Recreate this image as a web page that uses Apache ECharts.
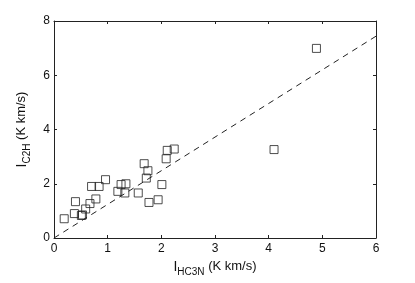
<!DOCTYPE html>
<html><head><meta charset="utf-8">
<script src="https://cdn.jsdelivr.net/npm/echarts@6/dist/echarts.min.js"></script>
<style>html,body{margin:0;padding:0;background:#fff}#c{width:415px;height:283px}</style>
</head><body><div id="c"></div>
<script>
const xValues = [0.19,0.38,0.40,0.51,0.53,0.59,0.67,0.78,0.70,0.84,0.96,1.19,1.25,1.34,1.32,1.57,1.68,1.75,1.72,1.77,1.94,2.01,2.09,2.11,2.24,4.10,4.89];
const yValues = [0.71,0.90,1.34,0.83,0.85,1.07,1.27,1.44,1.90,1.90,2.15,1.72,1.97,2.00,1.66,1.66,2.74,2.48,2.21,1.31,1.41,1.97,2.92,3.23,3.28,3.26,6.99];
const fitX = [0, 6];
const fitY = [0, 7.44];
const xTicks = [0,1,2,3,4,5,6];
const yTicks = [0,2,4,6,8];

const font = 'Liberation Sans, Arial, Helvetica, sans-serif';
const chart = echarts.init(document.getElementById('c'), null, {renderer:'canvas'});
function axisCommon(){
  return {
    axisLine:{show:true,onZero:false,lineStyle:{color:'#222',width:1}},
    axisTick:{show:true,inside:true,length:3,lineStyle:{color:'#222'}},
    splitLine:{show:false}
  };
}
const rich = {
  i:{fontSize:14,fontFamily:font,color:'#111',verticalAlign:'top'},
  s:{fontSize:10,fontFamily:font,color:'#111',verticalAlign:'bottom',padding:[7,0,0,0]},
  n:{fontSize:13,fontFamily:font,color:'#111',verticalAlign:'top'}
};
chart.setOption({
  animation:false,
  grid:{left:54,right:39,top:21,bottom:45,show:false},
  xAxis:[
    Object.assign({type:'value',min:0,max:6,interval:1,position:'bottom',
      name:'{i|I}{s|HC3N}{n| (K km/s)}',nameLocation:'middle',nameGap:16,
      nameTextStyle:{rich:rich},
      axisLabel:{fontSize:12,fontFamily:font,color:'#111',margin:5,formatter:v=>xTicks.includes(v)?String(v):''}},axisCommon()),
    Object.assign({type:'value',min:0,max:6,interval:1,position:'top',axisLabel:{show:false}},axisCommon())
  ],
  yAxis:[
    Object.assign({type:'value',min:0,max:8,interval:2,position:'left',
      name:'{i|I}{s|C2H}{n| (K km/s)}',nameLocation:'middle',nameGap:22,
      nameTextStyle:{rich:rich},
      axisLabel:{fontSize:12,fontFamily:font,color:'#111',margin:4,formatter:v=>yTicks.includes(v)?String(v):''}},axisCommon()),
    Object.assign({type:'value',min:0,max:8,interval:2,position:'right',axisLabel:{show:false}},axisCommon())
  ],
  series:[
    {type:'line',data:fitX.map((x,i)=>[x,fitY[i]]),symbol:'none',silent:true,
      lineStyle:{color:'#222',width:1,type:[6,5]}},
    {type:'scatter',data:xValues.map((x,i)=>[x,yValues[i]]),symbol:'rect',symbolSize:8,
      itemStyle:{color:'rgba(0,0,0,0)',borderColor:'#222',borderWidth:1}}
  ]
});
</script></body></html>
